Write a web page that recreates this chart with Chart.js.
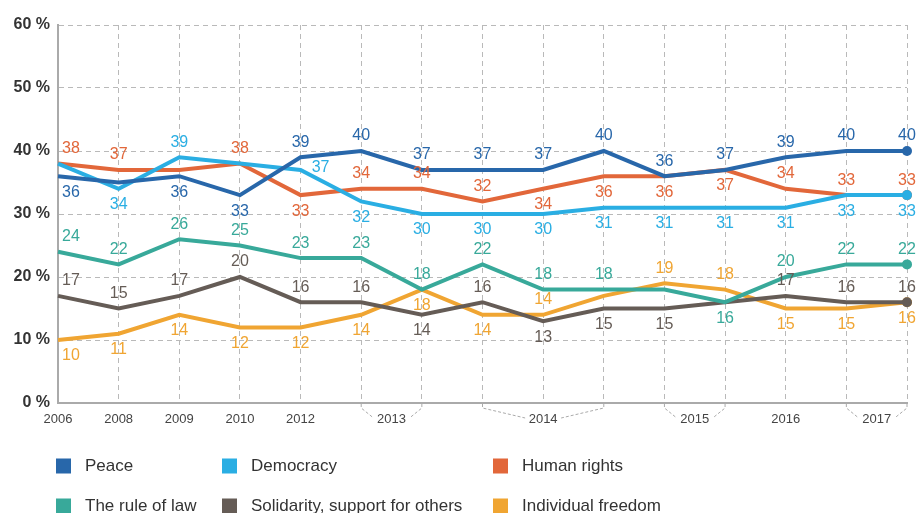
<!DOCTYPE html>
<html>
<head>
<meta charset="utf-8">
<script src="https://cdn.jsdelivr.net/npm/chart.js@4/dist/chart.umd.min.js"></script>
<style>
  html, body { margin: 0; padding: 0; background: #fff; }
</style>
</head>
<body>
<canvas id="chart" width="917" height="513"></canvas>
<script>
// one entry per survey wave
const waves = ['2006', '2008', '2009', '2010', '2012', '2013', '2013', '2014', '2014', '2014', '2015', '2015', '2016', '2017', '2017'];
// year labels on the x axis, with the first and last wave each one covers
const yearLabels = ['2006', '2008', '2009', '2010', '2012', '2013', '2014', '2015', '2016', '2017'];
const yearFirst = [0, 1, 2, 3, 4, 5, 7, 10, 12, 13];
const yearLast = [0, 1, 2, 3, 4, 6, 9, 11, 12, 14];
const yTicks = [0, 10, 20, 30, 40, 50, 60];

const seriesNames = ['Peace', 'Democracy', 'Human rights', 'The rule of law', 'Solidarity, support for others', 'Individual freedom'];
const peace = [36, 35, 36, 33, 39, 40, 37, 37, 37, 40, 36, 37, 39, 40, 40];
const democracy = [38, 34, 39, 38, 37, 32, 30, 30, 30, 31, 31, 31, 31, 33, 33];
const humanRights = [38, 37, 37, 38, 33, 34, 34, 32, 34, 36, 36, 37, 34, 33, 33];
const ruleOfLaw = [24, 22, 26, 25, 23, 23, 18, 22, 18, 18, 18, 16, 20, 22, 22];
const solidarity = [17, 15, 17, 20, 16, 16, 14, 16, 13, 15, 15, 16, 17, 16, 16];
const freedom = [10, 11, 14, 12, 12, 14, 18, 14, 14, 17, 19, 18, 15, 15, 16];

const colors = ['#2867aa', '#2aaee3', '#e2673a', '#38a99a', '#655c56', '#f0a532'];

// where each value label sits: a = above, b = below, r = right, - = none
const labelPos = [
    'b-bbaaaaaaaaaaa',
    '-ba-rbbbbbbbbbb',
    'aa-abaaabbbbaaa',
    'aaaaaaaaaa-baaa',
    'aaaaaababbb-aaa',
    'bbbbbbbba-aabbb'
];

const FONT = '"Liberation Sans", Arial, sans-serif';

const decor = {
    id: 'decor',
    afterDatasetsDraw(chart) {
        const ctx = chart.ctx;
        const xs = chart.scales.x, ys = chart.scales.y;
        ctx.save();
        ctx.font = '16px ' + FONT;
        ctx.textAlign = 'center';
        ctx.textBaseline = 'middle';
        chart.data.datasets.forEach((ds, di) => {
            ds.data.forEach((v, i) => {
                const p = labelPos[di][i];
                if (p === '-') return;
                let x = xs.getPixelForValue(i);
                let y = ys.getPixelForValue(v);
                if (i === 0) x += 13;
                if (p === 'a') y -= 15;
                else if (p === 'b') y += 16;
                else if (p === 'r') { x += 20; y -= 2; }
                ctx.fillStyle = ds.borderColor;
                ctx.fillText(String(v), x, y);
            });
        });
        ctx.restore();
    },
    afterDraw(chart) {
        const ctx = chart.ctx;
        const xs = chart.scales.x;
        const base = chart.chartArea.bottom;
        ctx.save();
        // x axis years and brackets
        ctx.font = '13px ' + FONT;
        ctx.fillStyle = '#444';
        ctx.textAlign = 'center';
        ctx.textBaseline = 'middle';
        yearLabels.forEach((lab, k) => {
            const x1 = xs.getPixelForValue(yearFirst[k]);
            const x2 = xs.getPixelForValue(yearLast[k]);
            const xc = (x1 + x2) / 2;
            ctx.fillText(lab, xc, base + 16);
            if (yearFirst[k] !== yearLast[k]) {
                ctx.strokeStyle = '#aaa';
                ctx.lineWidth = 1;
                ctx.setLineDash([3, 2]);
                ctx.beginPath();
                ctx.moveTo(x1, base + 1);
                ctx.lineTo(x1, base + 5);
                ctx.lineTo(xc - 18, base + 15);
                ctx.moveTo(x2, base + 1);
                ctx.lineTo(x2, base + 5);
                ctx.lineTo(xc + 18, base + 15);
                ctx.stroke();
                ctx.setLineDash([]);
            }
        });
        // legend, two rows of three
        const colX = [56, 222, 493];
        const rowY = [466, 506];
        ctx.font = '17px "Liberation Sans Narrow", ' + FONT;
        ctx.textAlign = 'left';
        seriesNames.forEach((name, i) => {
            const cx = colX[i % 3], cy = rowY[Math.floor(i / 3)];
            ctx.fillStyle = colors[i];
            ctx.fillRect(cx, cy - 7.5, 15, 15);
            ctx.fillStyle = '#333';
            ctx.fillText(name, cx + 29, cy);
        });
        ctx.restore();
    }
};

const allSeries = [peace, democracy, humanRights, ruleOfLaw, solidarity, freedom];

new Chart(document.getElementById('chart'), {
    type: 'line',
    data: {
        labels: waves,
        datasets: allSeries.map((d, i) => ({
            label: seriesNames[i],
            data: d,
            borderColor: colors[i],
            backgroundColor: colors[i],
            borderWidth: 4,
            tension: 0,
            fill: false,
            pointRadius: ctx => ctx.dataIndex === d.length - 1 ? 5 : 0,
            pointHoverRadius: 0,
            pointBorderWidth: 0
        }))
    },
    options: {
        responsive: false,
        animation: false,
        events: [],
        layout: { padding: { top: 25, right: 10, bottom: 110, left: 0 } },
        plugins: {
            legend: { display: false },
            tooltip: { enabled: false }
        },
        scales: {
            x: {
                type: 'category',
                offset: false,
                grid: { color: '#b9b9b9', lineWidth: 1, drawTicks: false },
                border: { display: true, color: '#aaa', width: 2, dash: [5, 4] },
                ticks: { display: false, autoSkip: false }
            },
            y: {
                min: 0,
                max: 60,
                afterBuildTicks: s => { s.ticks = yTicks.map(v => ({ value: v })); },
                afterFit: s => { s.width = 58; },
                grid: { color: '#b9b9b9', lineWidth: 1, drawTicks: false },
                border: { display: true, color: '#aaa', width: 2, dash: [5, 4] },
                ticks: {
                    padding: 8,
                    color: '#333',
                    font: { family: FONT, size: 16, weight: 'bold' },
                    callback: v => v + ' %'
                }
            }
        }
    },
    plugins: [decor]
});
</script>
</body>
</html>
